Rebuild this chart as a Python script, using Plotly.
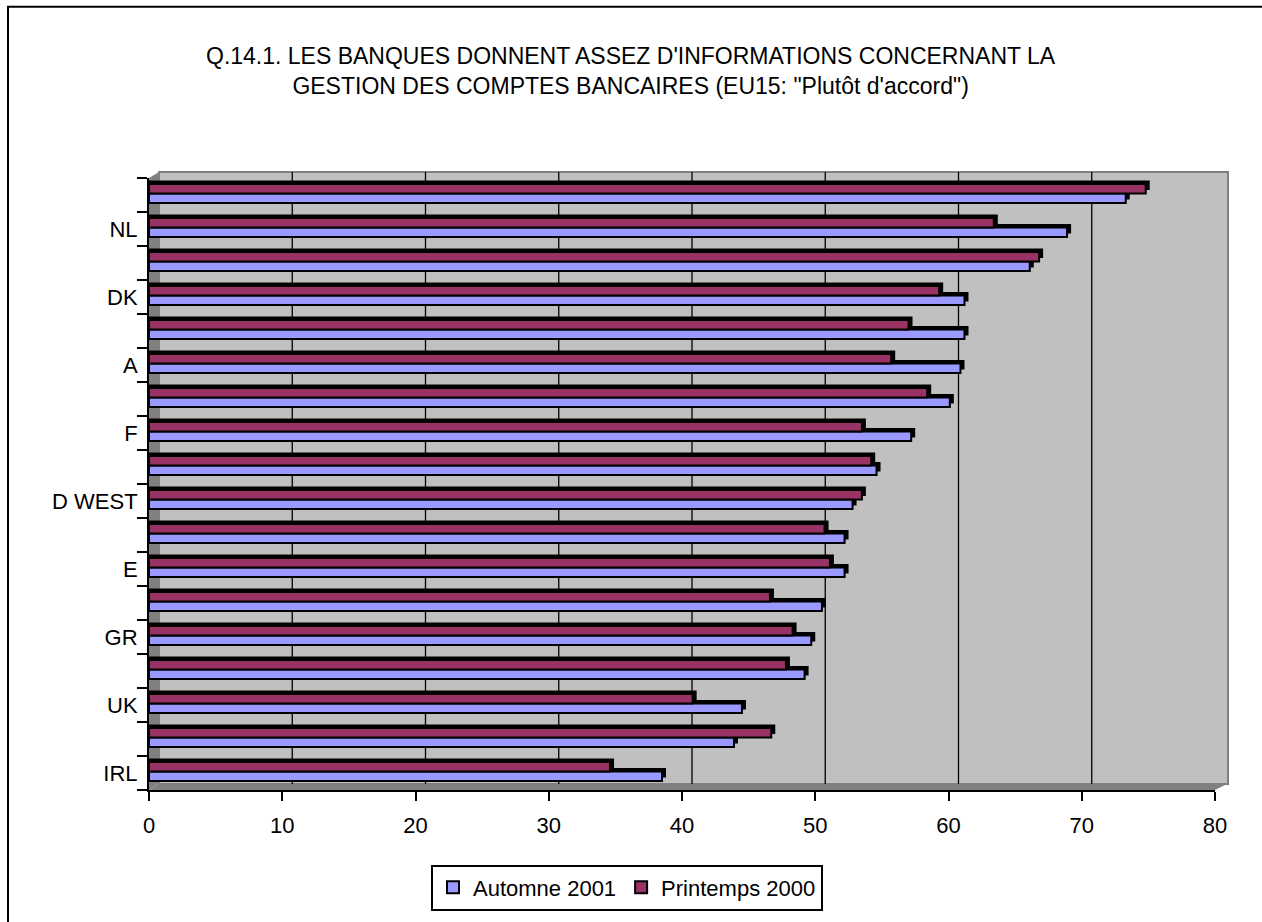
import plotly.graph_objects as go

# ---- data (top to bottom) ----
categories = ["L", "NL", "S", "DK", "FIN", "A", "B", "F", "D", "D WEST",
              "EU15", "E", "I", "GR", "P", "UK", "D EAST", "IRL"]
shown_labels = ["", "NL", "", "DK", "", "A", "", "F", "", "D WEST",
                "", "E", "", "GR", "", "UK", "", "IRL"]
automne_2001 = [73.3, 68.9, 66.1, 61.2, 61.2, 60.9, 60.1, 57.2, 54.6, 52.8,
                52.2, 52.2, 50.5, 49.7, 49.2, 44.5, 43.9, 38.5]
printemps_2000 = [74.8, 63.4, 66.8, 59.3, 57.0, 55.7, 58.4, 53.5, 54.2, 53.5,
                  50.7, 51.1, 46.6, 48.3, 47.8, 40.8, 46.7, 34.6]
x_ticks = [0, 10, 20, 30, 40, 50, 60, 70, 80]
series_names = ["Automne 2001", "Printemps 2000"]

TITLE = ("Q.14.1. LES BANQUES DONNENT ASSEZ D'INFORMATIONS CONCERNANT LA<br>"
         "GESTION DES COMPTES BANCAIRES (EU15: \"Plutôt d'accord\")")

# ---- layout geometry (pixels) ----
WIDTH, HEIGHT = 1262, 922
L, R, T, B = 149, 1215, 178, 793
PW, PH = R - L, B - T
FONT = "Liberation Sans, Arial, sans-serif"
DEPTH_PX = 10      # 3D depth offset of back wall (x)
DEPTH_PY = 6
XMAX = 80

def pxx(p):
    return (p - L) / PW

def pxy(p):
    return (B - p) / PH

unit_px = PW / XMAX
depth_units = DEPTH_PX / unit_px
bar_depth_units = 0.3

BLUE = "#9999FF"
MAROON = "#993366"

fig = go.Figure()

bw = 0.28
off_p = -0.325
off_a = -0.045
sh = -0.1

def add_series(vals, name, color, off):
    # dark top face (3D shading)
    fig.add_trace(go.Bar(
        y=categories, x=[v + bar_depth_units for v in vals], orientation="h",
        width=bw, offset=off + sh, marker=dict(color="black", line=dict(width=0)),
        showlegend=False, hoverinfo="skip"))
    fig.add_trace(go.Bar(
        y=categories, x=vals, orientation="h", name=name,
        width=bw, offset=off,
        marker=dict(color=color, line=dict(color="black", width=2))))

add_series(automne_2001, series_names[0], BLUE, off_a)
add_series(printemps_2000, series_names[1], MAROON, off_p)

shapes = []
# outer frame (only left/top visible in image)
shapes.append(dict(type="rect", xref="paper", yref="paper",
                   x0=pxx(8), x1=pxx(1275), y0=pxy(935), y1=pxy(6),
                   line=dict(color="black", width=2), fillcolor="rgba(0,0,0,0)",
                   layer="below"))
# back wall
wall_top = T - DEPTH_PY
wall_bot = B - DEPTH_PY
shapes.append(dict(type="rect", xref="paper", yref="paper",
                   x0=pxx(L + DEPTH_PX), x1=pxx(R + DEPTH_PX + 3),
                   y0=pxy(wall_bot), y1=pxy(wall_top),
                   fillcolor="#C0C0C0", line=dict(color="#808080", width=2),
                   layer="below"))
# left wall
shapes.append(dict(type="path", xref="paper", yref="paper",
                   path="M {a},{b} L {c},{d} L {c},{e} L {a},{f} Z".format(
                       a=pxx(L), b=pxy(T), c=pxx(L + DEPTH_PX), d=pxy(wall_top),
                       e=pxy(wall_bot), f=pxy(B)),
                   fillcolor="#808080", line=dict(width=0), layer="below"))
# floor
shapes.append(dict(type="path", xref="paper", yref="paper",
                   path="M {a},{b} L {c},{d} L {e},{d} L {g},{b} Z".format(
                       a=pxx(L), b=pxy(B), c=pxx(L + DEPTH_PX), d=pxy(wall_bot),
                       e=pxx(R + DEPTH_PX + 2), g=pxx(R)),
                   fillcolor="#808080", line=dict(width=0), layer="below"))
# gridlines on the back wall
for v in x_ticks[1:-1]:
    shapes.append(dict(type="line", xref="x", yref="paper",
                       x0=v + depth_units, x1=v + depth_units,
                       y0=pxy(wall_bot), y1=pxy(wall_top),
                       line=dict(color="black", width=1.3), layer="below"))

fig.update_layout(
    width=WIDTH, height=HEIGHT,
    margin=dict(l=L, r=WIDTH - R, t=T, b=HEIGHT - B, pad=0),
    paper_bgcolor="white", plot_bgcolor="rgba(0,0,0,0)",
    barmode="overlay",
    font=dict(family=FONT, size=22, color="black"),
    shapes=shapes,
    showlegend=True,
    legend=dict(orientation="h", x=pxx(627), y=pxy(891),
                xanchor="center", yanchor="middle",
                bordercolor="black", borderwidth=2, bgcolor="white",
                font=dict(family=FONT, size=22, color="black"),
                itemwidth=30, tracegroupgap=0),
    annotations=[dict(text=TITLE, xref="paper", yref="paper",
                      x=pxx(631), y=pxy(70), xanchor="center", yanchor="middle",
                      showarrow=False, align="center",
                      font=dict(family=FONT, size=23, color="black"))],
)

fig.update_xaxes(range=[0, XMAX], tickvals=x_ticks, showgrid=False, zeroline=False,
                 showline=True, linecolor="black", linewidth=2,
                 ticks="outside", ticklen=9, tickwidth=2, tickcolor="black",
                 ticklabelstandoff=6,
                 tickfont=dict(family=FONT, size=22, color="black"), fixedrange=True)
fig.update_yaxes(type="category", categoryorder="array", categoryarray=categories,
                 range=[len(categories) - 0.5, -0.5],
                 tickvals=categories, ticktext=shown_labels,
                 tickson="boundaries", showgrid=False, zeroline=False,
                 showline=True, linecolor="black", linewidth=2,
                 ticks="outside", ticklen=10, tickwidth=2, tickcolor="black",
                 ticklabelstandoff=5,
                 tickfont=dict(family=FONT, size=22, color="black"), fixedrange=True)

fig.write_html("out.html")
